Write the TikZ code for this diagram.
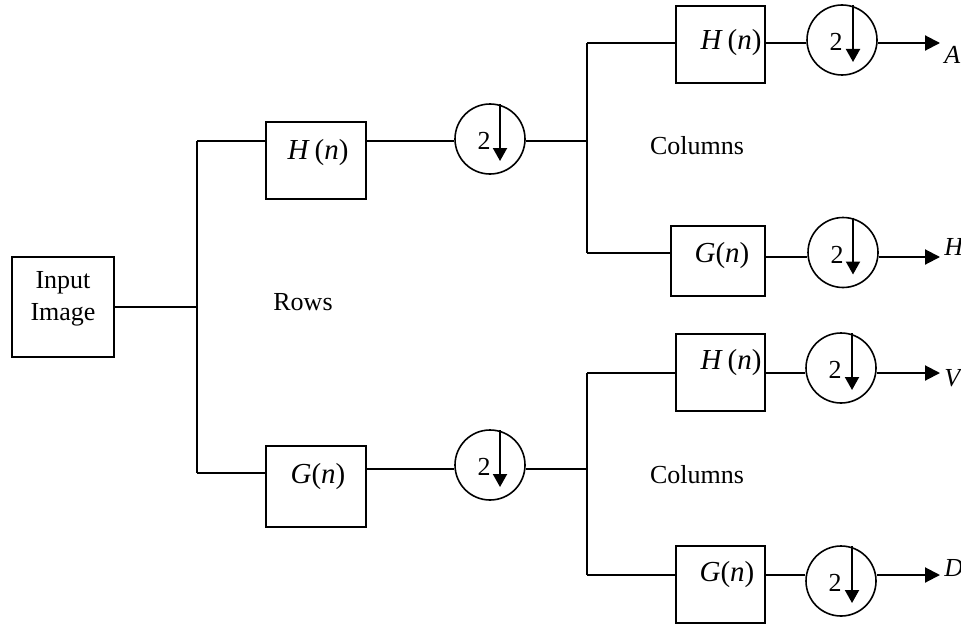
\documentclass[tikz,border=0pt]{standalone}
\usepackage{fontspec}
\setmainfont{Liberation Serif}
\usetikzlibrary{arrows.meta,calc}
\newcommand{\Hn}{\fontsize{14.5pt}{16pt}\selectfont\textit{H}\,(\textit{n})}
\newcommand{\Gn}{\fontsize{14.5pt}{16pt}\selectfont\textit{G}(\textit{n})}
\begin{document}
\begin{tikzpicture}[x=0.5pt,y=-0.5pt,
  box/.style={draw,line width=1pt,inner sep=0pt},
  txt/.style={inner sep=0pt,font=\fontsize{13pt}{16pt}\selectfont},
  dsc/.style={draw,circle,line width=0.8pt,minimum size=35pt,inner sep=0pt},
  wire/.style={line width=0.75pt},
  outarr/.style={line width=1pt,-{Triangle[length=7.5pt,width=7.5pt]}},
  dnarr/.style={line width=1pt,-{Triangle[length=6.5pt,width=7pt]}}]
\useasboundingbox (0,0) rectangle (961,626);
% input
\node[box,minimum width=51pt,minimum height=50pt] (in) at (63,307) {};
\node[txt,align=center] (inlbl) at (63,299) {Input\\Image};
% junctions
\coordinate (j1t) at (197,141);
\coordinate (j1m) at (197,307);
\coordinate (j1b) at (197,473);
\coordinate (j2t) at (587,43);
\coordinate (j2m) at (587,141);
\coordinate (j2b) at (587,253);
\coordinate (j3t) at (587,373);
\coordinate (j3m) at (587,469);
\coordinate (j3b) at (587,575);
% row filters
\node[box,minimum width=50pt,minimum height=38.5pt] (h1) at (316,160.5) {};
\node[txt] (h1l) at (318,153) {\Hn};
\node[box,minimum width=50pt,minimum height=40.5pt] (g1) at (316,486.5) {};
\node[txt] (g1l) at (318,477) {\Gn};
\node[dsc] (c1) at (490,139) {};
\node[dsc] (c5) at (490,465) {};
% column filters
\node[box,minimum width=44.5pt,minimum height=38.5pt] (h2) at (720.5,44.5) {};
\node[txt] (h2l) at (731,43) {\Hn};
\node[box,minimum width=47pt,minimum height=35pt] (g2) at (718,261) {};
\node[txt] (g2l) at (722,256) {\Gn};
\node[box,minimum width=44.5pt,minimum height=38.5pt] (h3) at (720.5,372.5) {};
\node[txt] (h3l) at (731,363) {\Hn};
\node[box,minimum width=44.5pt,minimum height=38.5pt] (g3) at (720.5,584.5) {};
\node[txt] (g3l) at (727,575) {\Gn};
\node[dsc] (c2) at (842,40) {};
\node[dsc] (c3) at (843,252.5) {};
\node[dsc] (c4) at (841,368) {};
\node[dsc] (c6) at (841,581) {};
% 2 labels and down arrows
\foreach \c/\dx in {c1/10,c5/10,c2/11,c3/10,c4/11,c6/11}{
  \node[txt] (\c two) at ($(\c.center)+(-6,2)$) {2};
  \draw[dnarr] ($(\c.center)+(\dx,-35)$) -- ($(\c.center)+(\dx,22)$);
}
% outputs
\coordinate (oA) at (940,43);
\coordinate (oH) at (940,257);
\coordinate (oV) at (940,373);
\coordinate (oD) at (940,575);
\node[txt,anchor=west] (lA) at (944,55) {\textit{A}};
\node[txt,anchor=west] (lH) at (944,247) {\textit{H}};
\node[txt,anchor=west] (lV) at (944,378) {\textit{V}};
\node[txt,anchor=west] (lD) at (944,568) {\textit{D}};
% texts
\node[txt] (rows) at (303,302) {Rows};
\node[txt] (col1) at (697,146) {Columns};
\node[txt] (col2) at (697,475) {Columns};
% wires
\draw[wire] (in.east |- j1m) -- (j1m);
\draw[wire] (j1t) -- (j1b);
\draw[wire] (j1t) -- (j1t -| h1.west);
\draw[wire] (j1b) -- (j1b -| g1.west);
\draw[wire] (h1.east |- j2m) -- (c1.west |- j2m);
\draw[wire] (c1.east |- j2m) -- (j2m);
\draw[wire] (g1.east |- j3m) -- (c5.west |- j3m);
\draw[wire] (c5.east |- j3m) -- (j3m);
\draw[wire] (j2t) -- (j2b);
\draw[wire] (j3t) -- (j3b);
\draw[wire] (j2t) -- (j2t -| h2.west);
\draw[wire] (j2b) -- (j2b -| g2.west);
\draw[wire] (j3t) -- (j3t -| h3.west);
\draw[wire] (j3b) -- (j3b -| g3.west);
\draw[wire] (h2.east |- oA) -- (c2.west |- oA);
\draw[wire] (g2.east |- oH) -- (c3.west |- oH);
\draw[wire] (h3.east |- oV) -- (c4.west |- oV);
\draw[wire] (g3.east |- oD) -- (c6.west |- oD);
\draw[outarr] (c2.east |- oA) -- (oA);
\draw[outarr] (c3.east |- oH) -- (oH);
\draw[outarr] (c4.east |- oV) -- (oV);
\draw[outarr] (c6.east |- oD) -- (oD);
\end{tikzpicture}
\end{document}
